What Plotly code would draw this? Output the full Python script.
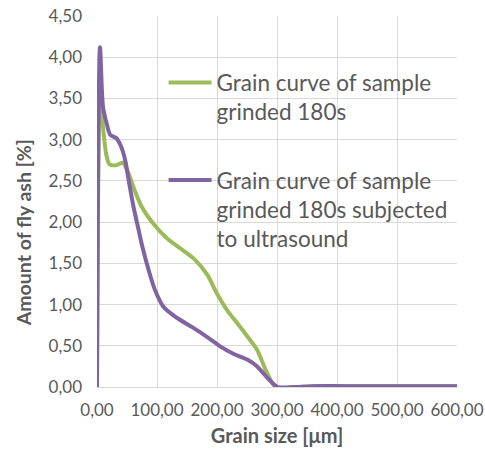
import plotly.graph_objects as go

# Grain size [µm] and amount of fly ash [%]
x_180s = [0, 5, 10, 16, 21, 32, 43, 52, 63, 75, 94, 117, 139, 161, 184, 200, 217, 231, 251, 267, 281, 298, 330, 360, 450, 600]
y_180s = [0, 3.70, 3.15, 2.80, 2.70, 2.69, 2.72, 2.60, 2.38, 2.18, 1.98, 1.80, 1.68, 1.56, 1.36, 1.13, 0.93, 0.80, 0.61, 0.45, 0.21, 0.0, 0.0, 0.01, 0.01, 0.01]

x_us = [0, 5, 10, 16, 22, 32, 40, 47, 53, 61, 68, 75, 86, 97, 111, 133, 160, 185, 206, 228, 251, 267, 284, 301, 330, 360, 450, 600]
y_us = [0, 4.12, 3.40, 3.20, 3.06, 3.02, 2.92, 2.75, 2.50, 2.18, 1.95, 1.72, 1.42, 1.17, 0.97, 0.84, 0.72, 0.60, 0.49, 0.40, 0.33, 0.25, 0.11, 0.0, 0.0, 0.01, 0.01, 0.01]

name_180s = "Grain curve of sample<br>grinded 180s"
name_us = "Grain curve of sample<br>grinded 180s subjected<br>to ultrasound"

x_title = "Grain size [μm]"
y_title = "Amount of fly ash [%]"

GREEN = "#9BBB59"
PURPLE = "#8064A2"
GRID = "#D9D9D9"
TXT = "#595959"
FONT = "Lato"

fig = go.Figure()
fig.add_trace(go.Scatter(x=x_180s, y=y_180s, mode="lines", name=name_180s,
                         legendgroup="a",
                         line=dict(color=GREEN, width=4, shape="spline", smoothing=0.8)))
fig.add_trace(go.Scatter(x=x_us, y=y_us, mode="lines", name=name_us,
                         legendgroup="b",
                         line=dict(color=PURPLE, width=4, shape="spline", smoothing=0.8)))

fig.update_layout(
    width=485, height=450,
    margin=dict(l=97, r=28, t=16, b=63),
    paper_bgcolor="white", plot_bgcolor="white",
    separators=", ",
    font=dict(family=FONT, color=TXT, size=17),
    showlegend=True,
    legend=dict(x=0.185, y=0.878, xanchor="left", yanchor="top",
                bgcolor="rgba(0,0,0,0)", font=dict(size=22.5, color=TXT, family=FONT),
                traceorder="grouped", tracegroupgap=36, valign="top", itemwidth=43),
    xaxis=dict(range=[0, 600], dtick=100, tickformat=".2f", showgrid=True,
               gridcolor=GRID, gridwidth=1, zeroline=False, showline=True,
               linecolor=GRID, linewidth=1, ticks="", ticklabelstandoff=8,
               automargin=False,
               tickfont=dict(size=17, color=TXT),
               title=dict(text="<b>" + x_title + "</b>", font=dict(size=20, color=TXT), standoff=9)),
    yaxis=dict(range=[0, 4.5], dtick=0.5, tickformat=".2f", showgrid=True,
               gridcolor=GRID, gridwidth=1, zeroline=False, showline=False,
               ticks="", ticklabelstandoff=14, automargin=False,
               tickfont=dict(size=17, color=TXT)),
    annotations=[dict(text="<b>" + y_title + "</b>", textangle=-90,
                      xref="paper", yref="paper", x=-0.205, y=0.415,
                      xanchor="center", yanchor="middle", showarrow=False,
                      font=dict(size=19.5, color=TXT, family=FONT))],
)

fig.write_html("out.html")
